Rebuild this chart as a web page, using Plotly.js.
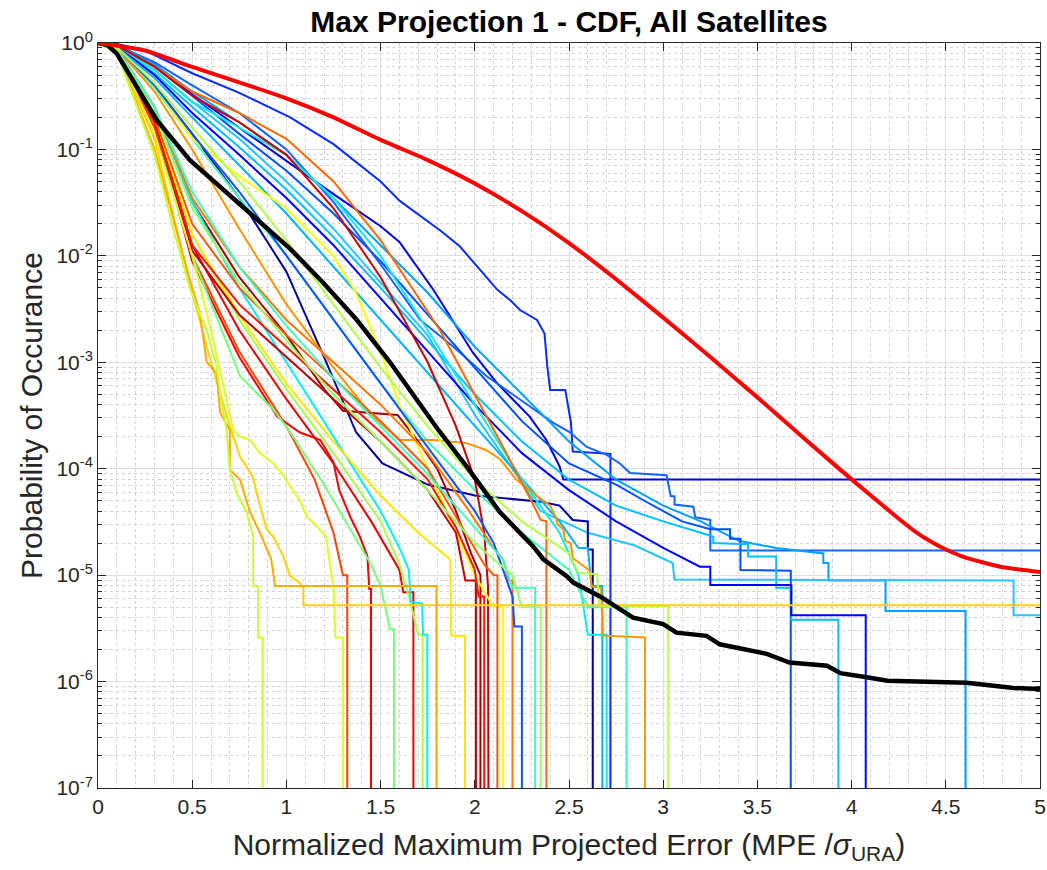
<!DOCTYPE html>
<html>
<head>
<meta charset="utf-8">
<script src="https://cdn.plot.ly/plotly-3.0.1.min.js"></script>
<style>
html,body{margin:0;padding:0;background:#fff;}
#chart{width:1047px;height:870px;}
</style>
</head>
<body>
<div id="chart"></div>
<script>
// ---------------- data ----------------
const xTickVals = [0,0.5,1,1.5,2,2.5,3,3.5,4,4.5,5];
const xTickText = ['0','0.5','1','1.5','2','2.5','3','3.5','4','4.5','5'];
const yTickVals = [1e-7,1e-6,1e-5,1e-4,1e-3,1e-2,1e-1,1];
const yTickText = ['10<sup>-7</sup>','10<sup>-6</sup>','10<sup>-5</sup>','10<sup>-4</sup>','10<sup>-3</sup>','10<sup>-2</sup>','10<sup>-1</sup>','10<sup>0</sup>'];

// reference (overbound) curve
const refX = [0,0.25,0.5,0.75,1,1.25,1.5,1.75,2,2.25,2.5,2.75,3,3.25,3.5,3.75,4,4.257,4.345,4.434,4.5,4.61,4.79,5];
const refP = [1,0.85,0.596,0.427,0.302,0.20,0.123,0.0794,0.0479,0.0263,0.0132,6.03e-3,2.63e-3,1.12e-3,4.68e-4,1.91e-4,7.94e-5,3.31e-5,2.51e-5,2.0e-5,1.74e-5,1.45e-5,1.20e-5,1.07e-5];

// all-satellite curve
const allX = [0,0.05,0.1,0.187,0.312,0.488,0.70,0.876,1.019,1.194,1.373,1.55,1.70,1.8,1.956,2.134,2.31,2.364,2.488,2.523,2.665,2.84,3.0,3.07,3.23,3.30,3.55,3.67,3.87,3.94,4.08,4.19,4.61,4.86,5];
const allP = [1,0.955,0.794,0.447,0.188,0.0794,0.0372,0.02,0.0117,5.62e-3,2.51e-3,1.0e-3,4.17e-4,2.4e-4,1.05e-4,3.89e-5,1.86e-5,1.41e-5,9.77e-6,8.51e-6,6.31e-6,3.98e-6,3.47e-6,2.88e-6,2.69e-6,2.24e-6,1.82e-6,1.51e-6,1.41e-6,1.20e-6,1.10e-6,1.02e-6,9.77e-7,8.71e-7,8.51e-7];

// individual satellites
const s01X = [0,0.1,0.25,0.5,0.75,1.02,1.25,1.5,1.6,1.815,1.92,2.12,2.19,2.24,2.33,2.37,2.385,2.40,2.48,2.51,2.52,2.72,2.72];
const s01P = [1,0.98,0.85,0.52,0.34,0.20,0.112,0.05,0.033,0.0174,0.0123,4.8e-3,3.8e-3,3.1e-3,2.5e-3,1.86e-3,9.1e-4,5.5e-4,5.5e-4,2.75e-4,1.45e-4,1.38e-4,1e-9];
const s02X = [0,0.1,0.3,0.5,0.75,1.02,1.25,1.5,1.6,1.78,1.99,2.12,2.29,2.38,2.45,2.47,5];
const s02P = [1,0.97,0.63,0.33,0.16,0.074,0.038,0.019,0.0135,4.8e-3,1.23e-3,6.3e-4,3.1e-4,1.86e-4,1.05e-4,7.9e-5,7.9e-5];
const s03X = [0,0.1,0.3,0.5,0.75,1.0,1.25,1.5,1.71,1.886,2.063,2.24,2.417,2.505,2.594,2.70,2.77,2.824,3.018,3.04,3.06,3.06,3.16,3.17,3.25,3.25,5];
const s03P = [1,0.95,0.66,0.40,0.22,0.10,0.032,8.3e-3,2.5e-3,1.4e-3,7.4e-4,4.5e-4,2.7e-4,2.2e-4,1.6e-4,1.35e-4,1.12e-4,9.1e-5,8.7e-5,5.5e-5,5.5e-5,4.6e-5,4.4e-5,3.5e-5,3.3e-5,1.7e-5,1.7e-5];
const s04X = [0,0.1,0.3,0.5,0.75,1.0,1.25,1.5,1.75,2.0,2.25,2.5,2.75,3.0,3.2,3.4,3.6,3.85,3.85,3.877,3.877,4.18,4.18,4.605,4.605];
const s04P = [1,0.95,0.63,0.35,0.18,0.089,0.035,0.0126,4.5e-3,1.4e-3,5.0e-4,1.8e-4,7.9e-5,4.5e-5,3.2e-5,2.1e-5,1.8e-5,1.6e-5,1.3e-5,1.3e-5,8.9e-6,8.9e-6,4.6e-6,4.6e-6,1e-9];
const s05X = [0,0.1,0.3,0.5,0.75,1.0,1.25,1.5,1.75,2.0,2.2,2.35,2.6,2.85,3.05,3.06,4.86,4.86,5];
const s05P = [1,0.95,0.56,0.28,0.126,0.05,0.018,5.6e-3,1.8e-3,3.2e-4,1.0e-4,4.0e-5,2.5e-5,1.9e-5,1.3e-5,9.1e-6,8.9e-6,4.2e-6,4.2e-6];
const s06X = [0,0.1,0.3,0.5,0.75,1.0,1.25,1.5,1.75,2.0,2.25,2.5,2.75,2.9,3.1,3.25,3.355,3.355,3.41,3.41,3.677,3.677];
const s06P = [1,0.95,0.6,0.32,0.14,0.063,0.025,8.9e-3,2.8e-3,8.9e-4,2.8e-4,1.12e-4,7.1e-5,5.0e-5,3.2e-5,2.7e-5,2.7e-5,2.2e-5,2.2e-5,1.12e-5,1.1e-5,1e-9];
const s07X = [0,0.1,0.3,0.5,0.75,1.0,1.25,1.5,1.75,2.0,2.25,2.5,2.75,3.0,3.2,3.266,3.266,3.45,3.45,3.6,3.6,3.68,3.68,3.93,3.93];
const s07P = [1,0.93,0.52,0.25,0.105,0.042,0.015,5.0e-3,1.6e-3,5.0e-4,1.8e-4,7.9e-5,4.5e-5,3.2e-5,2.5e-5,2.3e-5,2.0e-5,1.95e-5,1.5e-5,1.5e-5,7.6e-6,7.6e-6,3.8e-6,3.8e-6,1e-9];
const s08X = [0,0.1,0.3,0.5,0.75,1.0,1.25,1.5,1.75,2.0,2.25,2.5,2.75,3.0,3.195,3.25,3.25,3.68,3.68,4.075,4.075];
const s08P = [1,0.93,0.5,0.22,0.089,0.035,0.0126,4.0e-3,1.26e-3,4.0e-4,1.4e-4,6.3e-5,3.2e-5,1.8e-5,1.2e-5,1.2e-5,8.1e-6,8.1e-6,4.2e-6,4.2e-6,1e-9];
const s09X = [0,0.1,0.3,0.5,0.75,1.0,1.2,1.37,1.51,1.75,2.0,2.35,2.45,2.52,2.6,2.6,2.626,2.626];
const s09P = [1,0.91,0.4,0.14,0.035,7.1e-3,1.12e-3,2.2e-4,1.12e-4,7.1e-5,5.6e-5,4.9e-5,4.5e-5,3.3e-5,3.2e-5,1.74e-5,1.74e-5,1e-9];
const s10X = [0,0.1,0.3,0.5,0.75,1.0,1.25,1.5,1.75,2.0,2.25,2.45,2.55,2.6,2.62,2.677,2.677];
const s10P = [1,0.91,0.47,0.2,0.071,0.025,7.9e-3,2.5e-3,7.9e-4,2.5e-4,7.9e-5,3.2e-5,1.8e-5,1.8e-5,7.9e-6,7.9e-6,1e-9];
const s11X = [0,0.1,0.3,0.5,0.75,1.0,1.25,1.5,1.75,2.0,2.25,2.45,2.55,2.6,2.70,2.70];
const s11P = [1,0.95,0.56,0.28,0.16,0.089,0.035,0.01,2.0e-3,4.0e-4,7.9e-5,2.5e-5,1.0e-5,2.75e-6,2.75e-6,1e-9];
const s12X = [0,0.1,0.3,0.5,0.75,1.0,1.25,1.5,1.75,2.0,2.25,2.5,2.6,2.806,2.806];
const s12P = [1,0.89,0.38,0.126,0.035,0.01,2.5e-3,6.3e-4,1.8e-4,6.3e-5,2.5e-5,1.12e-5,5.0e-6,5.0e-6,1e-9];
const s13X = [0,0.1,0.3,0.5,0.75,1.0,1.25,1.45,1.603,1.78,1.957,2.06,2.134,2.22,2.31,2.40,2.43,2.44,2.47,2.48,2.51,2.52,2.61,2.62,2.67,2.68,2.903,2.903];
const s13P = [1,0.89,0.35,0.1,0.018,3.5e-3,8.9e-4,3.2e-4,1.86e-4,1.86e-4,1.74e-4,1.5e-4,1.23e-4,7.9e-5,5.9e-5,4.5e-5,3.5e-5,3.0e-5,2.7e-5,2.1e-5,2.0e-5,1.45e-5,1.1e-5,7.8e-6,7.6e-6,2.7e-6,2.6e-6,1e-9];
const s14X = [0,0.1,0.3,0.5,0.75,1.0,1.25,1.5,1.815,2.0,2.15,2.3,2.35,2.38,2.38];
const s14P = [1,0.95,0.6,0.35,0.22,0.126,0.05,0.014,2.0e-3,5.0e-4,1.6e-4,5.0e-5,3.3e-5,3.2e-5,1e-9];
const s15X = [0,0.1,0.3,0.5,0.75,1.0,1.2,1.3,1.59,1.7,1.8,1.9,1.98,2.03,2.03];
const s15P = [1,0.89,0.25,0.032,6.3e-3,1.8e-3,5.6e-4,3.5e-4,3.2e-4,1.8e-4,1.0e-4,4.0e-5,1.6e-5,1.0e-5,1e-9];
const s16X = [0,0.1,0.3,0.5,0.75,1.0,1.25,1.5,1.75,1.9,2.0,2.05,2.07,2.075];
const s16P = [1,0.95,0.6,0.32,0.18,0.089,0.028,6.3e-3,1.0e-3,2.5e-4,7.9e-5,2.5e-5,7.9e-6,1e-9];
const s17X = [0,0.1,0.3,0.5,0.75,1.0,1.15,1.25,1.3,1.323,1.323];
const s17P = [1,0.85,0.16,0.01,1.26e-3,2.5e-4,7.9e-5,2.5e-5,1.0e-5,1.0e-5,1e-9];
const s18X = [0,0.1,0.3,0.5,0.75,0.95,1.07,1.18,1.25,1.28,1.34,1.39,1.43,1.44,1.449,1.449];
const s18P = [1,0.85,0.18,8.9e-3,1.12e-3,3.1e-4,2.2e-4,1.86e-4,1.15e-4,6.3e-5,3.5e-5,2.3e-5,1.5e-5,7.4e-6,7.4e-6,1e-9];
const s19X = [0,0.1,0.3,0.5,0.754,0.86,0.93,1.0,1.2,1.35,1.45,1.5,1.55,1.571,1.571];
const s19P = [1,0.85,0.18,0.01,7.4e-4,4.8e-4,3.6e-4,2.5e-4,7.1e-5,2.5e-5,1.26e-5,7.9e-6,3.1e-6,3.1e-6,1e-9];
const s20X = [0,0.1,0.3,0.5,0.75,1.0,1.25,1.45,1.6,1.62,1.674,1.674];
const s20P = [1,0.87,0.2,0.0126,2.0e-3,4.5e-4,1.12e-4,3.2e-5,1.12e-5,6.9e-6,6.9e-6,1e-9];
const s21X = [0,0.1,0.3,0.5,0.75,1.0,1.25,1.5,1.6,1.65,1.7,1.723,1.723];
const s21P = [1,0.87,0.2,0.016,2.5e-3,5.6e-4,1.4e-4,3.2e-5,1.26e-5,6.3e-6,2.75e-6,2.75e-6,1e-9];
const s22X = [0,0.1,0.3,0.5,0.75,1.0,1.25,1.5,1.6,1.65,1.66,1.72,1.725,1.748,1.748];
const s22P = [1,0.89,0.25,0.032,5.0e-3,1.0e-3,2.0e-4,4.0e-5,1.8e-5,1.12e-5,5.6e-6,5.4e-6,2.75e-6,2.75e-6,1e-9];
const s23X = [0,0.1,0.3,0.5,0.75,1.0,1.25,1.5,1.7,1.87,1.875,1.948,1.948];
const s23P = [1,0.87,0.2,0.016,2.8e-3,6.3e-4,1.8e-4,5.6e-5,2.5e-5,1.4e-5,2.7e-6,2.7e-6,1e-9];
const s24X = [0,0.1,0.3,0.5,0.75,1.0,1.25,1.37,1.5,1.6,1.75,1.9,2.0,2.1,2.15,2.15];
const s24P = [1,0.91,0.4,0.126,0.056,0.028,0.01,4.5e-3,1.26e-3,4.0e-4,1.0e-4,2.5e-5,1.0e-5,5.0e-6,5.0e-6,1e-9];
const s25X = [0,0.1,0.3,0.5,0.75,1.0,1.25,1.5,1.75,1.9,1.95,2.006,2.006];
const s25P = [1,0.85,0.18,0.0112,2.8e-3,1.12e-3,4.5e-4,1.8e-4,6.3e-5,2.5e-5,8.9e-6,8.9e-6,1e-9];
const s26X = [0,0.1,0.3,0.5,0.75,1.0,1.25,1.5,1.75,1.9,2.0,2.02,2.05,2.05];
const s26P = [1,0.85,0.18,0.0126,3.5e-3,1.4e-3,5.6e-4,2.2e-4,7.9e-5,2.8e-5,1.12e-5,6.3e-6,6.3e-6,1e-9];
const s27X = [0,0.1,0.3,0.5,0.75,1.0,1.25,1.5,1.75,1.9,2.05,2.1,2.12,2.12];
const s27P = [1,0.87,0.2,0.02,5.0e-3,1.8e-3,7.1e-4,2.8e-4,1.0e-4,3.5e-5,1.26e-5,1.0e-5,1.0e-5,1e-9];
const s28X = [0,0.1,0.3,0.5,0.75,1.0,1.25,1.5,1.75,1.95,2.1,2.15,2.18,2.20,2.20];
const s28P = [1,0.89,0.25,0.035,7.9e-3,2.5e-3,1.0e-3,4.0e-4,1.4e-4,4.5e-5,1.8e-5,1.4e-5,8.9e-6,8.9e-6,1e-9];
const s29X = [0,0.1,0.3,0.5,0.75,1.0,1.25,1.5,1.75,2.0,2.1,2.2,2.21,2.25,2.25];
const s29P = [1,0.91,0.4,0.14,0.04,0.01,2.5e-3,6.3e-4,1.6e-4,4.0e-5,2.0e-5,6.3e-6,3.3e-6,3.3e-6,1e-9];
const s30X = [0,0.1,0.3,0.5,0.75,1.0,1.25,1.5,1.75,2.0,2.15,2.2,2.32,2.32];
const s30P = [1,0.89,0.25,0.04,7.9e-3,2.2e-3,7.1e-4,2.5e-4,8.9e-5,2.8e-5,1.4e-5,7.6e-6,7.6e-6,1e-9];
const s31X = [0,0.1,0.3,0.5,0.75,1.0,1.25,1.5,1.75,2.0,2.2,2.25,2.35,2.35];
const s31P = [1,0.87,0.22,0.028,5.6e-3,1.6e-3,5.0e-4,1.8e-4,6.3e-5,2.0e-5,1.0e-5,5.0e-6,5.0e-6,1e-9];
const s32X = [0,0.1,0.3,0.5,0.75,1.0,1.25,1.5,1.75,2.0,2.25,2.5,2.55,2.65,2.66,3.027,3.027];
const s32P = [1,0.91,0.42,0.16,0.05,0.014,3.5e-3,8.9e-4,2.5e-4,7.9e-5,3.2e-5,1.6e-5,1.05e-5,1.02e-5,5.1e-6,5.1e-6,1e-9];
const s33X = [0,0.1,0.3,0.5,0.6,0.718,0.754,0.807,0.86,0.93,0.98,1.02,1.07,1.11,1.16,1.21,1.23,1.25,1.26,1.30,1.30];
const s33P = [1,0.85,0.14,0.01,2.0e-3,2.3e-4,2.0e-4,1.86e-4,1.4e-4,1.12e-4,8.9e-5,6.8e-5,5.1e-5,3.5e-5,2.9e-5,2.3e-5,1.3e-5,7.6e-6,2.6e-6,2.6e-6,1e-9];
const s34X = [0,0.1,0.3,0.5,0.6,0.7,0.754,0.82,0.86,0.895,0.93,0.984,1.02,1.07,1.09,1.09,5];
const s34P = [1,0.85,0.126,4.5e-3,1.0e-3,2.5e-4,1.3e-4,8.5e-5,4.5e-5,2.7e-5,2.3e-5,1.5e-5,9.8e-6,8.5e-6,7.6e-6,5.2e-6,5.2e-6];
const s35X = [0,0.1,0.3,0.4,0.488,0.541,0.577,0.63,0.648,0.70,0.70,0.754,0.807,0.86,0.92,0.94,1.797,1.797];
const s35P = [1,0.83,0.1,0.022,5.9e-3,2.9e-3,1.0e-3,7.9e-4,3.4e-4,2.3e-4,9.8e-5,7.9e-5,3.9e-5,2.5e-5,1.4e-5,7.9e-6,7.9e-6,1e-9];
const s36X = [0,0.1,0.3,0.4,0.49,0.577,0.63,0.65,0.683,0.70,0.736,0.789,0.824,0.824,0.85,0.85,0.874,0.874];
const s36P = [1,0.83,0.089,0.018,4.8e-3,2.0e-3,9.1e-4,4.8e-4,2.3e-4,9.8e-5,5.9e-5,3.9e-5,2.3e-5,7.9e-6,7.9e-6,2.6e-6,2.6e-6,1e-9];

const satX = [s01X,s02X,s03X,s04X,s05X,s06X,s07X,s08X,s09X,s10X,s11X,s12X,s13X,s14X,s15X,s16X,s17X,s18X,s19X,s20X,s21X,s22X,s23X,s24X,s25X,s26X,s27X,s28X,s29X,s30X,s31X,s32X,s33X,s34X,s35X,s36X];
const satP = [s01P,s02P,s03P,s04P,s05P,s06P,s07P,s08P,s09P,s10P,s11P,s12P,s13P,s14P,s15P,s16P,s17P,s18P,s19P,s20P,s21P,s22P,s23P,s24P,s25P,s26P,s27P,s28P,s29P,s30P,s31P,s32P,s33P,s34P,s35P,s36P];

// ---------------- styles ----------------
const satColors = ['#0a2cff','#0000e0','#1464ff','#00a0ff','#28c4ff','#0050ff','#00c0ff','#0000ff','#00009c','#00b4ff','#10e8f0','#40ffb8',
  '#ff9600','#ff6a00','#a00000','#c80000','#ff4600','#f00000','#78ff80','#e60000','#a8ff50','#00f0ff','#ffe600','#ffff00',
  '#c00000','#ff1400','#ff5a00','#ff7800','#1450ff','#40ffc0','#98ff68','#b4ff48','#e0ff20','#ffd200','#ffaa00','#c8ff30'];

const traces = [];
for (let i = 0; i < satX.length; i++) {
  traces.push({x: satX[i], y: satP[i], type: 'scatter', mode: 'lines',
    line: {color: satColors[i], width: 2}, hoverinfo: 'skip', showlegend: false});
}
traces.push({x: allX, y: allP, type: 'scatter', mode: 'lines',
  line: {color: '#000000', width: 4.5}, showlegend: false});
traces.push({x: refX, y: refP, type: 'scatter', mode: 'lines',
  line: {color: '#ff0000', width: 4, shape: 'spline', smoothing: 0.5}, showlegend: false});

const yMinor = [];
for (let e = -7; e < 0; e++) { for (let k = 2; k <= 9; k++) { yMinor.push(k * Math.pow(10, e)); } }

const axisFont = {family: 'Liberation Sans, Arial, sans-serif', size: 21, color: '#262626'};

const layout = {
  width: 1047, height: 870,
  margin: {l: 98, r: 7, t: 43, b: 82},
  paper_bgcolor: '#ffffff', plot_bgcolor: '#ffffff',
  showlegend: false,
  font: {family: 'Liberation Sans, Arial, sans-serif', size: 21, color: '#262626'},
  title: {text: '<b>Max Projection 1 - CDF, All Satellites</b>', x: 0.5435, xanchor: 'center', y: 0.975, yanchor: 'middle',
    font: {family: 'Liberation Sans, Arial, sans-serif', size: 30, color: '#000000'}},
  xaxis: {
    type: 'linear', range: [0, 5], tickmode: 'array', tickvals: xTickVals, ticktext: xTickText,
    ticks: 'inside', ticklen: 8, tickcolor: '#262626', tickfont: axisFont,
    showline: true, linecolor: '#262626', linewidth: 1, mirror: 'allticks',
    showgrid: true, gridcolor: '#e0e0e0', gridwidth: 1, zeroline: false,
    minor: {dtick: 0.1, tick0: 0, showgrid: true, gridcolor: '#d4d4d4', griddash: 'dot', gridwidth: 1, ticks: ''},
    title: {text: 'Normalized Maximum Projected Error (MPE /<i>σ</i><sub>URA</sub>)', standoff: 16,
      font: {family: 'Liberation Sans, Arial, sans-serif', size: 30, color: '#262626'}}
  },
  yaxis: {
    type: 'log', range: [-7, 0], tickmode: 'array', tickvals: yTickVals, ticktext: yTickText,
    ticks: 'inside', ticklen: 8, tickcolor: '#262626', tickfont: axisFont,
    showline: true, linecolor: '#262626', linewidth: 1, mirror: 'allticks',
    showgrid: true, gridcolor: '#e0e0e0', gridwidth: 1, zeroline: false,
    minor: {tickmode: 'array', tickvals: yMinor, showgrid: true, gridcolor: '#d4d4d4', griddash: 'dot', gridwidth: 1,
      ticks: 'inside', ticklen: 4, tickcolor: '#262626'},
    title: {text: 'Probability of Occurance', standoff: 4,
      font: {family: 'Liberation Sans, Arial, sans-serif', size: 30, color: '#262626'}}
  }
};

Plotly.newPlot('chart', traces, layout, {displayModeBar: false, staticPlot: true});
</script>
</body>
</html>
